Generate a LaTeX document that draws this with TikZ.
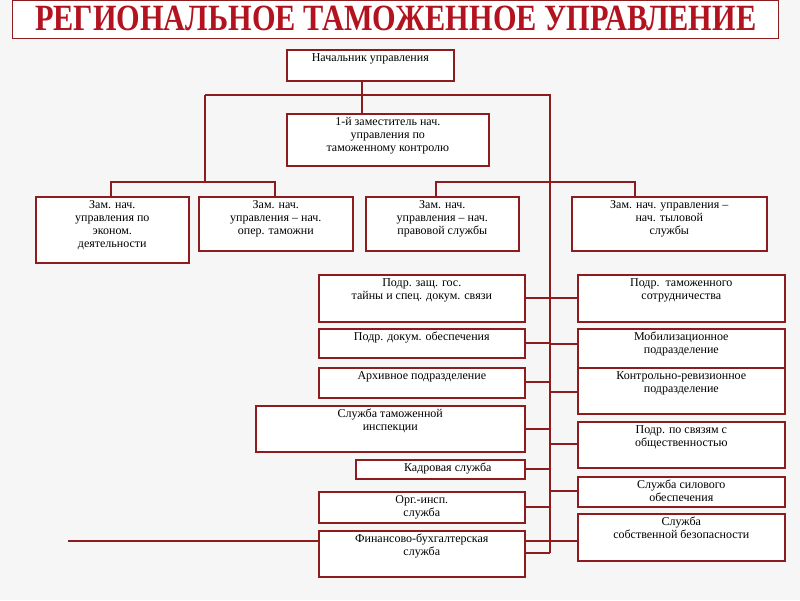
\documentclass[tikz,border=0pt]{standalone}
\usepackage{fontspec}
\setmainfont{Liberation Serif}
\definecolor{dred}{HTML}{8E1B1E}
\definecolor{tred}{HTML}{B3121F}
\tikzset{bx/.style={draw=dred,line width=1.6pt,fill=white,inner sep=0pt},
  tx/.style={anchor=north,font=\fontsize{12}{13}\selectfont,align=center,inner sep=0pt},
  ln/.style={draw=dred,line width=1.6pt}}
\newcommand{\bx}[6]{\node[bx,anchor=north west,minimum width={#4-#2},minimum height={#5-#3}] (#1) at (#2,#3) {};
  \node[tx] at ([yshift=-4pt]#1.north) {#6};}
\begin{document}
\begin{tikzpicture}[x=1pt,y=-1pt]
\fill[gray!7] (0,0) rectangle (800,600);
\useasboundingbox (0,0) rectangle (800,600);
\node[draw=dred,line width=1.4pt,fill=white,minimum width=766,minimum height=38,anchor=north west,inner sep=0pt] (title) at (12,0) {};
\node[text=tred,font=\bfseries\fontsize{37}{37}\selectfont,xscale=0.82] at ([yshift=1]title.center) {РЕГИОНАЛЬНОЕ ТАМОЖЕННОЕ УПРАВЛЕНИЕ};
\coordinate (vt) at (550,95);
\coordinate (vb) at (550,553);
\coordinate (lt) at (205,95);
\coordinate (lb) at (205,182);
\draw[ln] (362,80) -- (362,113);
\draw[ln] (lt) -- (vt) -- (vb);
\draw[ln] (lt) -- (lb);
\draw[ln] (111,196) -- (111,182) -- (275,182) -- (275,196);
\draw[ln] (436,196) -- (436,182) -- (635,182) -- (635,196);
\bx{head}{286}{49}{453}{80}{Начальник управления}
\bx{dep}{286}{113}{488}{165}{1-й заместитель нач.\\управления по\\таможенному контролю}
\bx{b1}{35}{196}{188}{262}{Зам. нач.\\управления по\\эконом.\\деятельности}
\bx{b2}{198}{196}{352}{250}{Зам. нач.\\управления – нач.\\опер. таможни}
\bx{b3}{365}{196}{518}{250}{Зам. нач.\\управления – нач.\\правовой службы}
\bx{b4}{571}{196}{766}{250}{Зам. нач. управления –\\нач. тыловой\\службы}
% left column
\bx{l1}{318}{274}{524}{321}{Подр. защ. гос.\\тайны и спец. докум. связи}
\bx{l2}{318}{328}{524}{357}{Подр. докум. обеспечения}
\bx{l3}{318}{367}{524}{397}{Архивное подразделение}
\bx{l4}{255}{405}{524}{451}{Служба таможенной\\инспекции}
\bx{l5}{355}{459}{524}{478}{\hspace*{15pt}Кадровая служба}
\bx{l6}{318}{491}{524}{522}{Орг.-инсп.\\служба}
\bx{l7}{318}{530}{524}{576}{Финансово-бухгалтерская\\служба}
% right column
\bx{r1}{577}{274}{784}{321}{Подр.\ \ таможенного\\сотрудничества}
\bx{r2}{577}{328}{784}{367}{Мобилизационное\\подразделение}
\bx{r3}{577}{367}{784}{413}{Контрольно-ревизионное\\подразделение}
\bx{r4}{577}{421}{784}{467}{Подр. по связям с\\общественностью}
\bx{r5}{577}{476}{784}{506}{Служба силового\\обеспечения}
\bx{r6}{577}{513}{784}{560}{Служба\\собственной безопасности}
\foreach \n/\yy in {l1/298,l2/343,l3/382,l4/429,l5/469,l6/507}
  \draw[ln] (524,\yy) -- (550,\yy);
\foreach \n/\yy in {r1/298,r2/344,r3/392,r4/444,r5/491}
  \draw[ln] (550,\yy) -- (577,\yy);
\coordinate (fl) at (68,541);
\draw[ln] (fl) -- (l7.west |- fl);
\draw[ln] (l7.east |- fl) -- (r6.west |- fl);
\draw[ln] (l7.east |- vb) -- (vb);
\end{tikzpicture}
\end{document}
